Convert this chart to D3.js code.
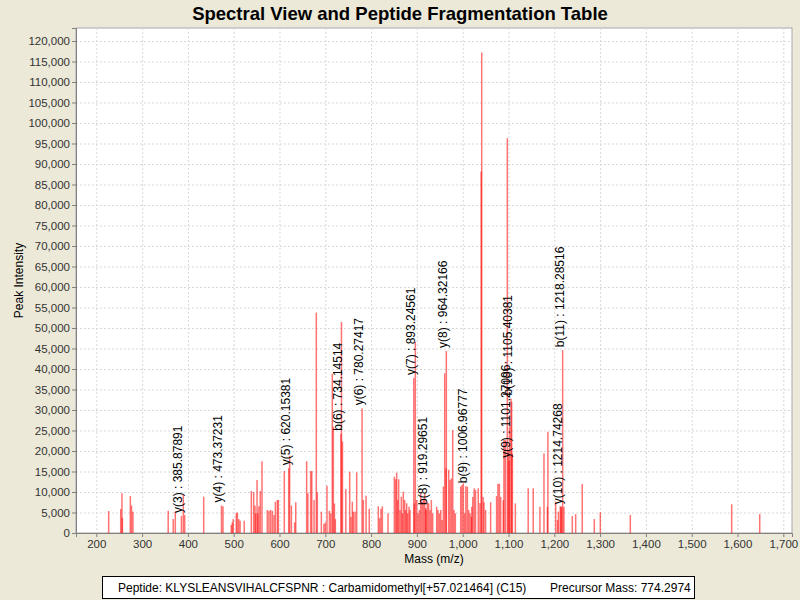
<!DOCTYPE html>
<html>
<head>
<meta charset="utf-8">
<script src="https://cdn.jsdelivr.net/npm/d3@7"></script>
<style>
  body { margin: 0; background: #ECE9D8; }
  svg { display: block; font-family: "Liberation Sans", Arial, sans-serif; }
</style>
</head>
<body>
<svg id="chart"></svg>
<script>
// peak list (m/z, intensity)
const peakMz = [
  227, 253.3, 256, 257, 274.3, 277, 280,
  357, 368, 372.5, 390, 393, 434.5, 476.6, 494.8, 497, 499, 505.7, 508, 511, 514, 523,
  538.5, 543.6, 546.5, 548, 551, 552.5, 555, 558, 561.8, 573.4, 577, 580.6, 584.3, 588,
  591, 595.4, 597.5, 610.5, 622.2, 626, 633, 635.5, 659.3, 662, 668, 670.5, 675.5, 680.4,
  682.6, 691.4, 697, 700, 703.7, 709, 712, 715.3, 717.5, 720, 722, 735.3, 737.5, 744.8,
  753.3, 756, 759, 761.2, 765, 768.5, 783, 789, 796, 815.8, 818.7, 821.7, 824.6, 837,
  850.8, 853.7, 855.9, 858, 860.2, 863.1, 866, 868.2, 870.4, 873.3, 875.5, 877.7, 879.9,
  882.8, 885, 894.4, 896.6, 899.5, 902.5, 905.4, 908.3, 911.2, 914.1, 917, 920, 922.8,
  925.7, 928.7, 931.6, 934.5, 943.2, 946.1, 949, 952, 954.9, 957.8, 960.7, 963.6, 969.4,
  972.3, 975.3, 978.2, 981.1, 984, 995.6, 998.5, 1001.5, 1004.4, 1010.2, 1013.1, 1016,
  1018.9, 1019.7, 1022, 1025, 1028, 1034, 1037.7, 1040.3, 1041.5, 1044.5, 1046.5, 1050,
  1061, 1074, 1077, 1080, 1083, 1088.6, 1090, 1093, 1097.4, 1099.5, 1102.4, 1106.9, 1108.5,
  1115, 1143, 1154, 1168.6, 1177.5, 1185, 1186, 1203, 1207, 1209, 1213, 1216, 1221,
  1239.3, 1246.7, 1261, 1287.4, 1300.5, 1366, 1587.3, 1648.5
];
const peakIntensity = [
  5370, 5850, 9700, 3700, 9030, 6700, 5200,
  5440, 3400, 5200, 9270, 4400, 8860, 6500, 1950, 2600, 3400, 4800, 5000, 3400, 3000, 3000,
  10240, 10000, 6700, 4800, 12930, 4800, 6500, 10240, 17500, 5600, 5400, 5600, 5400, 4400,
  7640, 8050, 8050, 15120, 18860, 6700, 2600, 7500, 17500, 9700, 15100, 15100, 8050, 53750,
  9900, 5200, 2200, 2600, 11540, 5400, 4800, 38800, 25900, 7200, 3400, 51470, 22280, 10700,
  14960, 3900, 7640, 5200, 5200, 14800, 8050, 9100, 5900, 6500, 3600, 5900, 6500, 4800,
  13740, 13100, 14700, 8050, 13100, 5600, 8860, 4800, 10080, 8050, 5600, 7250, 4800,
  6420, 5600, 7250, 46600, 8050, 4800, 5600, 9680, 7640, 8050, 9680, 5600, 7640,
  7250, 5600, 8050, 4800, 6420, 5600, 4800, 5600, 3170, 11300, 38960, 15800, 15400,
  12900, 13300, 25100, 5600, 4800, 11300, 11700, 12100, 4800, 11300, 5600, 4800,
  3980, 6400, 8800, 10900, 10500, 10900, 7300, 88140, 117200, 8800, 7500, 5600,
  7500, 9000, 12000, 12000, 8800, 8000, 22700, 22700, 96300, 20250, 25900, 32000, 19400,
  7240, 10900, 10900, 6400, 19400, 6400, 24700, 7640, 3170, 5200, 6600, 6400, 6400,
  4150, 4600, 11950, 3400, 5050, 4400, 7000, 4600
];

// annotated fragment ions
const ionLabels = [
  "y(3) : 385.87891", "y(4) : 473.37231", "y(5) : 620.15381", "b(6) : 734.14514",
  "y(6) : 780.27417", "y(7) : 893.24561", "b(8) : 919.29651", "y(8) : 964.32166",
  "b(9) : 1006.96777", "y(9) : 1101.27096", "b(10) : 1105.40381", "y(10) : 1214.74268",
  "b(11) : 1218.28516"
];
const ionMz = [385.88, 473.37, 620.15, 734.15, 780.27, 893.25, 919.3, 964.32, 1006.97, 1101.27, 1105.4, 1214.74, 1218.29];
const ionIntensity = [4150, 6700, 15800, 24200, 30400, 37800, 6100, 44400, 11400, 17600, 32800, 6300, 44600];

const xTicks = d3.range(200, 1701, 100);
const yTicks = d3.range(0, 120001, 5000);

const width = 800, height = 600;
const margin = { top: 28, right: 8, bottom: 67, left: 76 };

const svg = d3.select("#chart")
  .attr("width", width)
  .attr("height", height);

svg.append("rect")
  .attr("width", width)
  .attr("height", height)
  .attr("fill", "#ECE9D8");

const x = d3.scaleLinear()
  .domain([155.7, 1719])
  .range([margin.left, width - margin.right]);

const y = d3.scaleLinear()
  .domain([0, 123170])
  .range([height - margin.bottom, margin.top]);

// plot background
svg.append("rect")
  .attr("x", margin.left)
  .attr("y", margin.top)
  .attr("width", width - margin.left - margin.right)
  .attr("height", height - margin.top - margin.bottom)
  .attr("fill", "white")
  .attr("stroke", "#a8a8a8");

// dashed grid
svg.append("g")
  .selectAll("line")
  .data(xTicks)
  .enter()
  .append("line")
  .attr("x1", d => x(d) + 0.5)
  .attr("x2", d => x(d) + 0.5)
  .attr("y1", margin.top)
  .attr("y2", height - margin.bottom)
  .attr("stroke", "#d8d8d8")
  .attr("stroke-dasharray", "2,2");

svg.append("g")
  .selectAll("line")
  .data(yTicks.slice(1))
  .enter()
  .append("line")
  .attr("x1", margin.left)
  .attr("x2", width - margin.right)
  .attr("y1", d => y(d) + 0.5)
  .attr("y2", d => y(d) + 0.5)
  .attr("stroke", "#d8d8d8")
  .attr("stroke-dasharray", "2,2");

// peaks, ions included
const peaks = peakMz.map((m, i) => ({ mz: m, intensity: peakIntensity[i] }))
  .concat(ionMz.map((m, i) => ({ mz: m, intensity: ionIntensity[i] })));

svg.append("g")
  .selectAll("rect")
  .data(peaks)
  .enter()
  .append("rect")
  .attr("x", d => x(d.mz) - 0.75)
  .attr("y", d => y(d.intensity))
  .attr("width", 1.5)
  .attr("height", d => y(0) - y(d.intensity))
  .attr("fill", "#ff0000")
  .attr("fill-opacity", 0.55);

// ion labels, rotated at the top of each peak
svg.append("g")
  .selectAll("text")
  .data(ionLabels)
  .enter()
  .append("text")
  .attr("transform", (d, i) => `translate(${x(ionMz[i]) + 1},${y(ionIntensity[i]) - 3}) rotate(-90)`)
  .attr("text-anchor", "start")
  .style("font-size", "12px")
  .attr("fill", "black")
  .text(d => d);

// axes
const xAxis = d3.axisBottom(x).tickValues(xTicks).tickFormat(d3.format(",")).tickSize(4);
const yAxis = d3.axisLeft(y).tickValues(yTicks).tickFormat(d3.format(",")).tickSize(4);

const gx = svg.append("g")
  .attr("transform", `translate(0,${height - margin.bottom})`)
  .call(xAxis);
const gy = svg.append("g")
  .attr("transform", `translate(${margin.left},0)`)
  .call(yAxis);

[gx, gy].forEach(g => {
  g.select(".domain").attr("stroke", "#808080");
  g.selectAll(".tick line").attr("stroke", "#808080");
  g.selectAll(".tick text")
    .attr("fill", "#333")
    .style("font-family", "'Liberation Sans', Arial, sans-serif")
    .style("font-size", "11.5px");
});
gy.selectAll(".tick text").attr("x", -6);

svg.append("text")
  .attr("x", (margin.left + width - margin.right) / 2)
  .attr("y", 563)
  .attr("text-anchor", "middle")
  .style("font-size", "12px")
  .text("Mass (m/z)");

svg.append("text")
  .attr("transform", `translate(23,${(margin.top + height - margin.bottom) / 2}) rotate(-90)`)
  .attr("text-anchor", "middle")
  .style("font-size", "12px")
  .text("Peak Intensity");

// title
svg.append("text")
  .attr("x", 400)
  .attr("y", 20)
  .attr("text-anchor", "middle")
  .style("font-size", "18.5px")
  .style("font-weight", "bold")
  .text("Spectral View and Peptide Fragmentation Table");

// legend box
svg.append("rect")
  .attr("x", 102.5)
  .attr("y", 576.5)
  .attr("width", 592)
  .attr("height", 22)
  .attr("fill", "white")
  .attr("stroke", "black");

svg.append("text")
  .attr("x", 118)
  .attr("y", 592)
  .style("font-size", "12px")
  .text("Peptide: KLYSLEANSVIHALCFSPNR : Carbamidomethyl[+57.021464] (C15)");

svg.append("text")
  .attr("x", 550)
  .attr("y", 592)
  .style("font-size", "12px")
  .text("Precursor Mass: 774.2974");
</script>
</body>
</html>
